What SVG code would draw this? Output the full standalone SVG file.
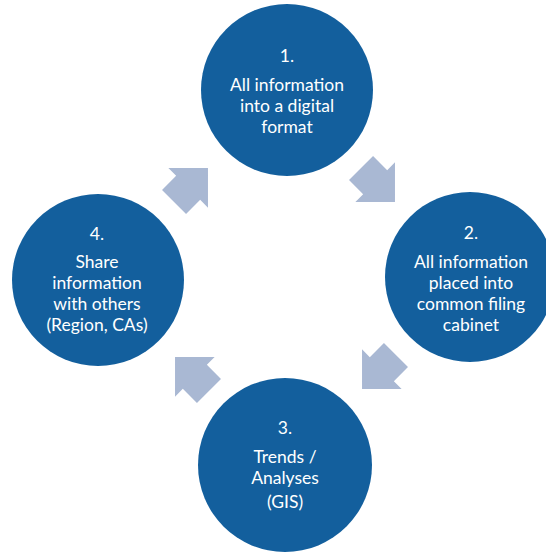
<svg xmlns="http://www.w3.org/2000/svg" width="546" height="552" viewBox="0 0 546 552">
  <style>
    .step { fill: #135f9d; }
    .label { fill: #ffffff; font-family: Lato, "Open Sans", "Liberation Sans", sans-serif; font-size: 17.5px; text-anchor: middle; }
    .flow { fill: #a9b8d3; }
  </style>
  <defs>
    <!-- block arrow pointing along +x, centred on the origin -->
    <polygon id="blockArrow" points="-24,-17 -4,-17 -4,-28 24,0 -4,28 -4,17 -24,17"/>
  </defs>
  <rect width="546" height="552" fill="#ffffff"/>

  <g id="connectors">
    <use href="#blockArrow" class="flow" transform="translate(191,185) rotate(-45)"/>
    <use href="#blockArrow" class="flow" transform="translate(378,185) rotate(45)"/>
    <use href="#blockArrow" class="flow" transform="translate(379,372) rotate(135)"/>
    <use href="#blockArrow" class="flow" transform="translate(192,374) rotate(-135)"/>
  </g>

  <g id="step1">
    <circle class="step" cx="287" cy="90" r="86"/>
    <text class="label" x="287" y="62">1.</text>
    <text class="label" x="287" y="91">All information</text>
    <text class="label" x="287" y="112">into a digital</text>
    <text class="label" x="287" y="133">format</text>
  </g>

  <g id="step2">
    <circle class="step" cx="470" cy="277" r="85"/>
    <text class="label" x="471" y="239">2.</text>
    <text class="label" x="471" y="268">All information</text>
    <text class="label" x="471" y="289">placed into</text>
    <text class="label" x="471" y="310">common filing</text>
    <text class="label" x="471" y="331">cabinet</text>
  </g>

  <g id="step3">
    <circle class="step" cx="285" cy="465" r="87"/>
    <text class="label" x="285" y="434">3.</text>
    <text class="label" x="285" y="463">Trends /</text>
    <text class="label" x="285" y="484">Analyses</text>
    <text class="label" x="285" y="508">(GIS)</text>
  </g>

  <g id="step4">
    <circle class="step" cx="98" cy="280" r="86"/>
    <text class="label" x="97" y="240">4.</text>
    <text class="label" x="97" y="268">Share</text>
    <text class="label" x="97" y="289">information</text>
    <text class="label" x="97" y="310">with others</text>
    <text class="label" x="97" y="331">(Region, CAs)</text>
  </g>
</svg>
